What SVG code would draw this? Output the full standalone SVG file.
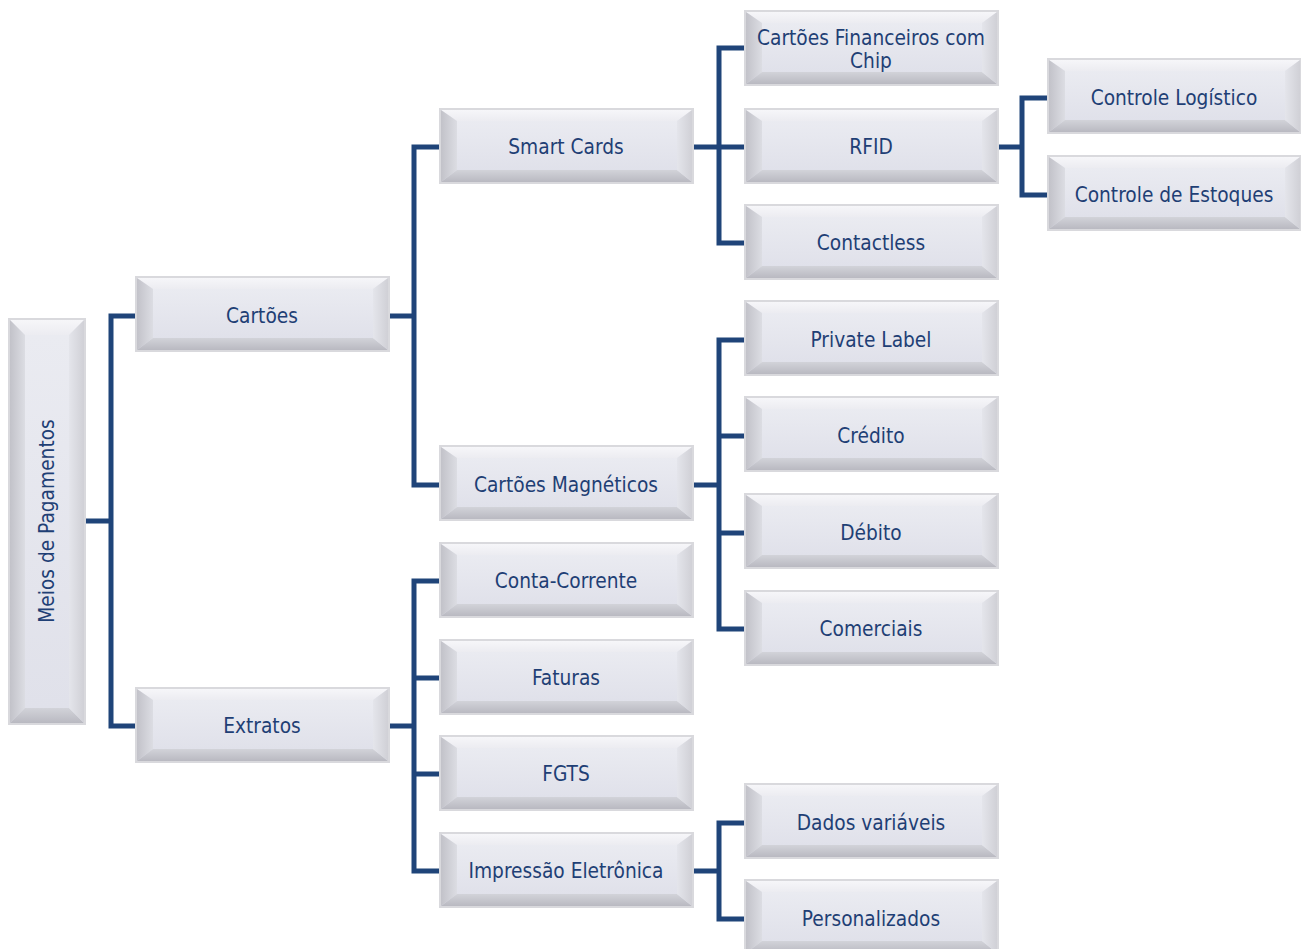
<svg xmlns="http://www.w3.org/2000/svg" xmlns:xlink="http://www.w3.org/1999/xlink" width="1301" height="949" viewBox="0 0 1301 949">
<style>
.t{font-family:"DejaVu Sans Condensed","DejaVu Sans",sans-serif;font-size:20.7px;fill:#1f3f75;text-anchor:middle;dominant-baseline:central}
.c{fill:none;stroke:#1f4479;stroke-width:5;stroke-linejoin:miter;stroke-linecap:butt}
</style>
<defs>
<linearGradient id="gL" x1="0" y1="0" x2="1" y2="0"><stop offset="0" stop-color="#c2c2c9"/><stop offset="1" stop-color="#dcdde3"/></linearGradient>
<linearGradient id="gR" x1="0" y1="0" x2="1" y2="0"><stop offset="0" stop-color="#e4e5eb"/><stop offset="1" stop-color="#d0d0d6"/></linearGradient>
<linearGradient id="gT" x1="0" y1="0" x2="0" y2="1"><stop offset="0" stop-color="#f6f6f9"/><stop offset="1" stop-color="#ececf1"/></linearGradient>
<linearGradient id="gB" x1="0" y1="0" x2="0" y2="1"><stop offset="0" stop-color="#d2d3d9"/><stop offset="1" stop-color="#b9b9c1"/></linearGradient>
<linearGradient id="gF" x1="0" y1="0" x2="0" y2="1"><stop offset="0" stop-color="#eaebf1"/><stop offset="1" stop-color="#e0e1ea"/></linearGradient>
<g id="box">
<rect x="-2" y="-2" width="255" height="76" fill="#d9d9dd"/>
<rect x="0" y="0" width="251" height="72" fill="url(#gF)"/>
<polygon points="0,0 251,0 236,11 16,11" fill="url(#gT)"/>
<polygon points="0,0 16,11 16,60 0,72" fill="url(#gL)"/>
<polygon points="0,72 16,60 236,60 251,72" fill="url(#gB)"/>
<polygon points="251,0 251,72 236,60 236,11" fill="url(#gR)"/>
<rect x="16" y="11" width="220" height="49" fill="url(#gF)"/>
</g>
</defs>
<rect width="1301" height="949" fill="#ffffff"/>
<g id="connectors">
<path class="c" d="M84,521 H111 M137,316 H111 V726 H137"/>
<path class="c" d="M388,316 H414 M441,147 H414 V485 H441"/>
<path class="c" d="M388,726 H414 M441,581 H414 V871 H441 M414,678 H441 M414,774 H441"/>
<path class="c" d="M692,147 H719 M746,48 H719 V243 H746 M719,147 H746"/>
<path class="c" d="M692,485 H719 M746,340 H719 V629 H746 M719,436 H746 M719,533 H746"/>
<path class="c" d="M692,871 H719 M746,823 H719 V919 H746"/>
<path class="c" d="M997,147 H1022 M1049,98 H1022 V195 H1049"/>
</g>
<g id="n-root">
<rect x="8" y="318" width="78" height="407" fill="#d9d9dd"/>
<rect x="10" y="320" width="74" height="403" fill="url(#gF)"/>
<polygon points="10,320 84,320 69,335 25,335" fill="url(#gT)"/>
<polygon points="10,320 25,335 25,708 10,723" fill="url(#gL)"/>
<polygon points="10,723 25,708 69,708 84,723" fill="url(#gB)"/>
<polygon points="84,320 84,723 69,708 69,335" fill="url(#gR)"/>
<rect x="25" y="335" width="44" height="373" fill="url(#gF)"/>
<text class="t" transform="translate(47,521) rotate(-90)">Meios de Pagamentos</text>
</g>
<g id="n-cartoes"><use xlink:href="#box" x="137" y="278"/><text class="t" x="262" y="316">Cartões</text></g>
<g id="n-extratos"><use xlink:href="#box" x="137" y="689"/><text class="t" x="262" y="726">Extratos</text></g>
<g id="n-smart"><use xlink:href="#box" x="441" y="110"/><text class="t" x="566" y="147">Smart Cards</text></g>
<g id="n-magn"><use xlink:href="#box" x="441" y="447"/><text class="t" x="566" y="485">Cartões Magnéticos</text></g>
<g id="n-conta"><use xlink:href="#box" x="441" y="544"/><text class="t" x="566" y="581">Conta-Corrente</text></g>
<g id="n-faturas"><use xlink:href="#box" x="441" y="641"/><text class="t" x="566" y="678">Faturas</text></g>
<g id="n-fgts"><use xlink:href="#box" x="441" y="737"/><text class="t" x="566" y="774">FGTS</text></g>
<g id="n-impr"><use xlink:href="#box" x="441" y="834"/><text class="t" x="566" y="871">Impressão Eletrônica</text></g>
<g id="n-chip"><use xlink:href="#box" x="746" y="12"/><text class="t" x="871" y="38">Cartões Financeiros com</text><text class="t" x="871" y="61">Chip</text></g>
<g id="n-rfid"><use xlink:href="#box" x="746" y="110"/><text class="t" x="871" y="147">RFID</text></g>
<g id="n-contactless"><use xlink:href="#box" x="746" y="206"/><text class="t" x="871" y="243">Contactless</text></g>
<g id="n-private"><use xlink:href="#box" x="746" y="302"/><text class="t" x="871" y="340">Private Label</text></g>
<g id="n-credito"><use xlink:href="#box" x="746" y="398"/><text class="t" x="871" y="436">Crédito</text></g>
<g id="n-debito"><use xlink:href="#box" x="746" y="495"/><text class="t" x="871" y="533">Débito</text></g>
<g id="n-comerciais"><use xlink:href="#box" x="746" y="592"/><text class="t" x="871" y="629">Comerciais</text></g>
<g id="n-dados"><use xlink:href="#box" x="746" y="785"/><text class="t" x="871" y="823">Dados variáveis</text></g>
<g id="n-pers"><use xlink:href="#box" x="746" y="881"/><text class="t" x="871" y="919">Personalizados</text></g>
<g id="n-logistico"><use xlink:href="#box" x="1049" y="60"/><text class="t" x="1174" y="98">Controle Logístico</text></g>
<g id="n-estoques"><use xlink:href="#box" x="1049" y="157"/><text class="t" x="1174" y="195">Controle de Estoques</text></g>
</svg>
